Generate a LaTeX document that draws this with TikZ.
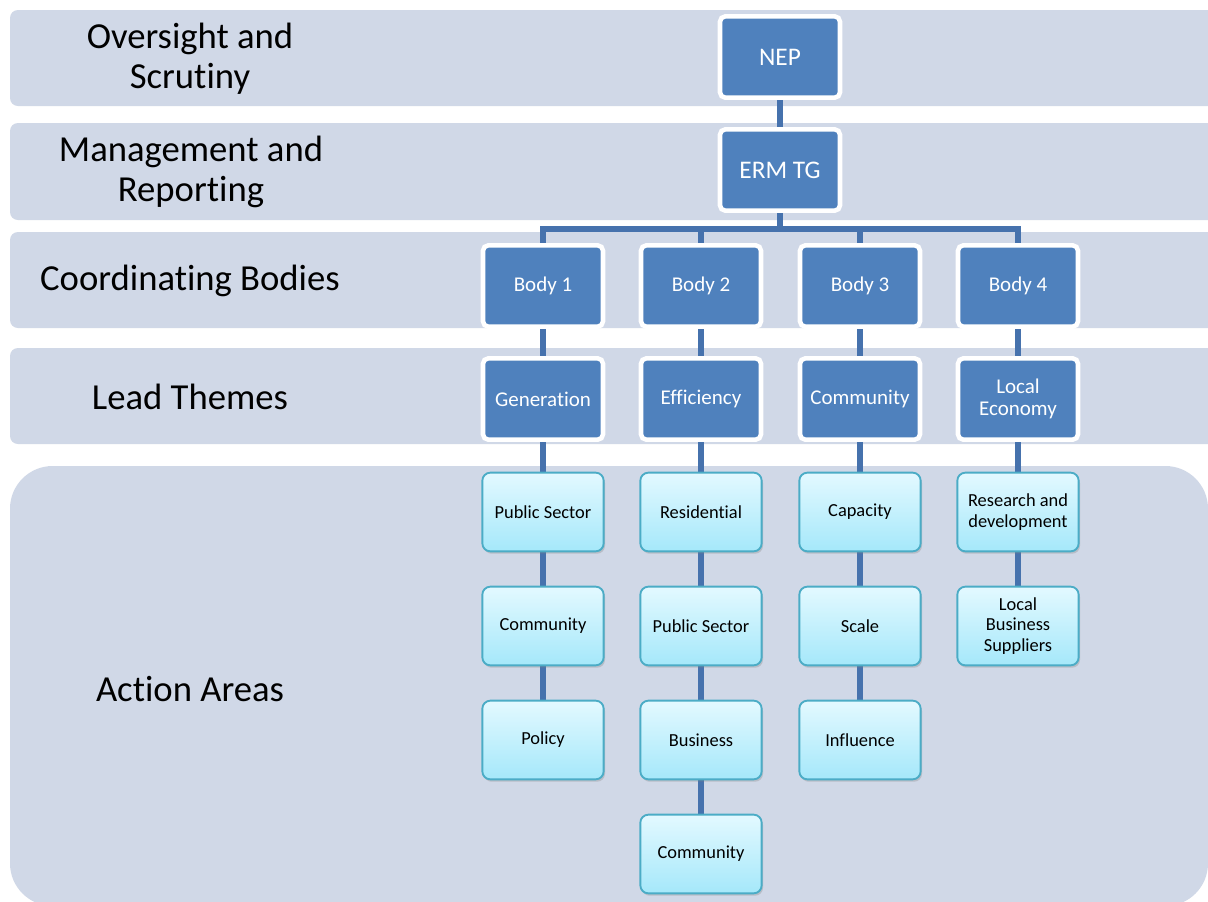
\documentclass[tikz,border=0pt]{standalone}
\usepackage{fontspec}
\setmainfont{Carlito}[Ligatures={NoCommon,NoRare,NoContextual},Contextuals=NoAlternate]
\newcommand\ti{t\kern0pt i}
\usetikzlibrary{shadows}
\definecolor{bandfill}{HTML}{D0D8E7}
\definecolor{boxblue}{HTML}{4F81BD}
\definecolor{linkblue}{HTML}{4672AD}
\definecolor{areaedge}{HTML}{4BACC6}
\definecolor{areatop}{HTML}{E3F9FF}
\definecolor{areabot}{HTML}{A5E8FA}
\pgfdeclarelayer{bands}
\pgfdeclarelayer{links}
\pgfsetlayers{bands,links,main}

\begin{document}
\begin{tikzpicture}[x=.75pt,y=-.75pt,
  band/.style={fill=bandfill,rounded corners=6pt},
  rowlabel/.style={align=center,font=\fontsize{27.5}{30}\selectfont},
  topbox/.style={draw=white,line width=3.4pt,fill=boxblue,rounded corners=4pt,
    minimum width=90pt,minimum height=61pt,text=white,align=center,
    font=\fontsize{19}{21}\selectfont},
  bodybox/.style={topbox,font=\fontsize{15.75}{17}\selectfont},
  areabox/.style={draw=areaedge,line width=1.4pt,top color=areatop,bottom color=areabot,
    rounded corners=6pt,minimum width=91pt,minimum height=59pt,align=center,
    font=\fontsize{13.8}{15.5}\selectfont,
    drop shadow={opacity=.3,shadow xshift=1pt,shadow yshift=-1.8pt}},
  link/.style={draw=linkblue,line width=3.8pt}]
\useasboundingbox (0,0) rectangle (1208,901);

% bands
\begin{pgfonlayer}{bands}
\fill[white] (0,0) rectangle (1208,901);
\clip (0,0) rectangle (1208,901);
\fill[band] (10,10) rectangle (1240,106);
\fill[band] (10,123) rectangle (1240,220);
\fill[band] (10,232) rectangle (1240,328);
\fill[band] (10,348) rectangle (1240,444);
\fill[band,rounded corners=32pt] (10,466) rectangle (1208,906);
\end{pgfonlayer}

\node[rowlabel] (lover) at (190,59) {Oversight and\\Scru\ti ny};
\node[rowlabel] (lman) at (191,172) {Management and\\Reporting};
\node[rowlabel] (lcoord) at (190,281) {Coordina\ti ng Bodies};
\node[rowlabel] (llead) at (190,397) {Lead Themes};
\node[rowlabel] (lact) at (190,689) {Action Areas};

\node[topbox] (nep) at (780,57) {NEP};
\node[topbox] (erm) at (780,170) {ERM TG};
\coordinate (bus) at (780,229);

\foreach \i/\x/\b/\t in {1/543/Body 1/Generation,2/701/Body 2/Efficiency,
    3/860/Body 3/Community,4/1018/Body 4/{Local\\Economy}} {
  \node[bodybox] (body\i) at (\x,286) {\b};
  \node[bodybox] (theme\i) at (\x,399) {\t};
}

% action areas
\node[areabox] (a11) at (543,512) {Public Sector};
\node[areabox] (a12) at (543,626) {Community};
\node[areabox] (a13) at (543,740) {Policy};
\node[areabox] (a21) at (701,512) {Residen\ti al};
\node[areabox] (a22) at (701,626) {Public Sector};
\node[areabox] (a23) at (701,740) {Business};
\node[areabox] (a24) at (701,854) {Community};
\node[areabox] (a31) at (860,512) {Capacity};
\node[areabox] (a32) at (860,626) {Scale};
\node[areabox] (a33) at (860,740) {Influence};
\node[areabox] (a41) at (1018,512) {Research and\\development};
\node[areabox] (a42) at (1018,626) {Local\\Business\\Suppliers};

\begin{pgfonlayer}{links}
\draw[link] (nep) -- (erm);
\draw[link] (erm) -- (bus);
\foreach \i in {1,...,4} {
  \draw[link] (body\i.north) |- (bus);
  \draw[link] (body\i) -- (theme\i);
  \draw[link] (theme\i) -- (a\i1);
}
\draw[link] (a11) -- (a12) -- (a13);
\draw[link] (a21) -- (a22) -- (a23) -- (a24);
\draw[link] (a31) -- (a32) -- (a33);
\draw[link] (a41) -- (a42);
\end{pgfonlayer}
\end{tikzpicture}
\end{document}
